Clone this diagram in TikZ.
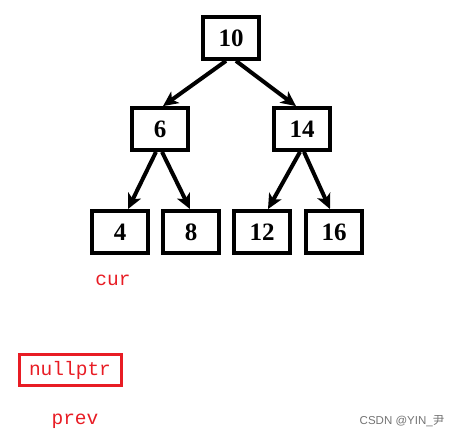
\documentclass[tikz,border=0pt]{standalone}
\usepackage{fontspec}
\setmainfont{Liberation Serif}
\setmonofont{Liberation Mono}
\setsansfont{Liberation Sans}
\newfontfamily\cjkfont{Noto Sans CJK SC}
\usetikzlibrary{arrows.meta}
\definecolor{ptrred}{RGB}{232,28,36}

\begin{document}
\begin{tikzpicture}[x=1pt, y=-1pt, >={Stealth[length=15pt,width=14pt,inset=4pt]},
  key/.style={draw, line width=3.8pt, minimum width=56pt, minimum height=42pt,
    inner sep=0pt, font=\fontsize{25}{25}\selectfont\bfseries},
  lnk/.style={->, line width=4pt},
  ptr/.style={text=ptrred, font=\fontsize{19.5}{19.5}\selectfont\ttfamily},
  mark box/.style={ptr, draw=ptrred, line width=3pt, minimum width=102pt,
    minimum height=31pt, inner sep=0pt},
  wm/.style={text=black!55, font=\fontsize{11.5}{11.5}\selectfont\sffamily}]
  \useasboundingbox (0,0) rectangle (461,438);
  % tree
  \node[key] (n10) at (231,38)  {10};
  \node[key] (n6)  at (160,129) {6};
  \node[key] (n14) at (302,129) {14};
  \node[key] (n4)  at (120,232) {4};
  \node[key] (n8)  at (191,232) {8};
  \node[key] (n12) at (262,232) {12};
  \node[key] (n16) at (334,232) {16};
  \draw[lnk] ([xshift=-5pt]n10.south) -- ([xshift=3pt]n6.north);
  \draw[lnk] ([xshift=5pt]n10.south)  -- ([xshift=-6pt]n14.north);
  \draw[lnk] ([xshift=-4pt]n6.south)  -- ([xshift=8pt]n4.north);
  \draw[lnk] ([xshift=2pt]n6.south)   -- ([xshift=-1pt]n8.north);
  \draw[lnk] ([xshift=-2pt]n14.south) -- ([xshift=6pt]n12.north);
  \draw[lnk] ([xshift=2pt]n14.south)  -- ([xshift=-4pt]n16.north);
  % pointers
  \node[ptr] (cur)  at (113,280) {cur};
  \node[mark box] (null) at (70,370) {nullptr};
  \node[ptr] (prev) at (75,421) {prev};
  \node[wm] (src) at (402,421) {CSDN @YIN\_{\cjkfont 尹}};
\end{tikzpicture}
\end{document}
